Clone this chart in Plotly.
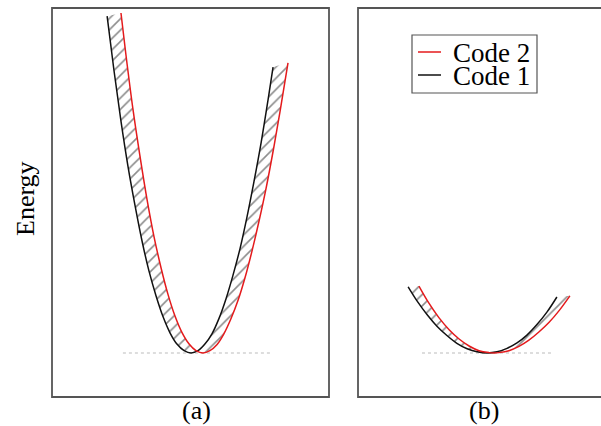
import plotly.graph_objects as go

# ---- data ----
# Panel (a)
a_code1_x = [1.99, 2.24, 2.49, 2.74, 3.00, 3.25, 3.50, 3.76, 4.01, 4.26, 4.51, 4.77, 5.02,
             5.27, 5.52, 5.78, 6.03, 6.28, 6.53, 6.79, 7.04, 7.29, 7.55, 7.80, 7.98]
a_code1_e = [8.66, 7.25, 5.96, 4.81, 3.78, 2.88, 2.11, 1.46, 0.93, 0.52, 0.23, 0.06, 0.00,
             0.06, 0.23, 0.50, 0.89, 1.39, 1.99, 2.69, 3.50, 4.40, 5.41, 6.51, 7.35]
a_code2_x = [2.49, 2.67, 2.92, 3.18, 3.43, 3.68, 3.94, 4.19, 4.44, 4.69, 4.95, 5.20, 5.45,
             5.70, 5.96, 6.21, 6.46, 6.72, 6.97, 7.22, 7.47, 7.73, 7.98, 8.23, 8.52]
a_code2_e = [8.74, 7.66, 6.28, 5.04, 3.95, 3.00, 2.18, 1.50, 0.95, 0.53, 0.23, 0.06, 0.00,
             0.06, 0.22, 0.50, 0.88, 1.36, 1.94, 2.62, 3.38, 4.24, 5.18, 6.20, 7.46]
a_ref_x = [2.56, 7.94]
a_ref_e = [0.0, 0.0]

# Panel (b)
b_code1_x = [1.81, 2.13, 2.49, 2.85, 3.21, 3.57, 3.94, 4.30, 4.66, 5.02, 5.38, 5.74, 6.10,
             6.46, 6.82, 7.18]
b_code1_e = [1.70, 1.34, 0.99, 0.69, 0.45, 0.25, 0.11, 0.03, 0.00, 0.03, 0.12, 0.26, 0.46,
             0.73, 1.05, 1.44]
b_code2_x = [2.20, 2.56, 2.92, 3.29, 3.65, 4.01, 4.37, 4.73, 4.91, 5.09, 5.45, 5.81, 6.17,
             6.53, 6.90, 7.26, 7.65]
b_code2_e = [1.72, 1.28, 0.91, 0.60, 0.36, 0.18, 0.06, 0.01, 0.00, 0.01, 0.06, 0.17, 0.33,
             0.54, 0.79, 1.09, 1.47]
b_ref_x = [2.31, 7.04]
b_ref_e = [0.0, 0.0]

series_names = ["Code 2", "Code 1"]
panel_labels = ["(a)", "(b)"]
y_title = "Energy"

# ---- styles ----
RED = "#e41a1c"
BLACK = "#111111"
FRAME = "#555555"
FONT = "Liberation Serif"

fig = go.Figure()


def add_panel(xa, ya, c1x, c1e, c2x, c2e, rx, re):
    # hatched region between the two curves
    fig.add_trace(go.Scatter(
        x=c1x + c2x[::-1], y=c1e + c2e[::-1], xaxis=xa, yaxis=ya,
        mode="lines", line=dict(width=0), fill="toself",
        fillcolor="rgba(0,0,0,0)",
        fillpattern=dict(shape="/", fgcolor="#1a1a1a", bgcolor="rgba(0,0,0,0)",
                         size=8, solidity=0.2),
        hoverinfo="skip", showlegend=False))
    # dotted reference line at minimum
    fig.add_trace(go.Scatter(x=rx, y=re, xaxis=xa, yaxis=ya, mode="lines",
                             line=dict(color="#bbbbbb", width=1, dash="dot"),
                             showlegend=False))
    fig.add_trace(go.Scatter(x=c1x, y=c1e, xaxis=xa, yaxis=ya, mode="lines",
                             line=dict(color=BLACK, width=1.5, shape="spline"),
                             name=series_names[1], showlegend=False))
    fig.add_trace(go.Scatter(x=c2x, y=c2e, xaxis=xa, yaxis=ya, mode="lines",
                             line=dict(color=RED, width=1.5, shape="spline"),
                             name=series_names[0], showlegend=False))


add_panel("x", "y", a_code1_x, a_code1_e, a_code2_x, a_code2_e, a_ref_x, a_ref_e)
add_panel("x2", "y2", b_code1_x, b_code1_e, b_code2_x, b_code2_e, b_ref_x, b_ref_e)

W, H = 601, 426
ax_a = [52 / W, 329 / W]
ax_b = [358 / W, 1.0]
ydom = [1 - 397 / H, 1 - 8 / H]
yr = [-1.131, 8.869]

hidden = dict(visible=False, showgrid=False, zeroline=False)
fig.update_layout(
    width=W, height=H, margin=dict(l=0, r=0, t=0, b=0),
    paper_bgcolor="white", plot_bgcolor="white", showlegend=False,
    xaxis=dict(domain=ax_a, range=[0, 10], **hidden),
    yaxis=dict(domain=ydom, range=yr, **hidden),
    xaxis2=dict(domain=ax_b, range=[0, 243 / 27.7], anchor="y2", **hidden),
    yaxis2=dict(domain=ydom, range=yr, anchor="x2", **hidden),
)

# frames
fig.add_shape(type="rect", xref="paper", yref="paper", x0=ax_a[0], x1=ax_a[1],
              y0=ydom[0], y1=ydom[1], line=dict(color=FRAME, width=1.8))
fig.add_shape(type="rect", xref="paper", yref="paper", x0=ax_b[0], x1=1.05,
              y0=ydom[0], y1=ydom[1], line=dict(color=FRAME, width=1.8))

# legend (manual, to match the compact layout)
fig.add_shape(type="rect", xref="paper", yref="paper", x0=412 / W, x1=537 / W,
              y0=1 - 93 / H, y1=1 - 35 / H, line=dict(color=FRAME, width=1.2),
              fillcolor="white", layer="above")
for i, (nm, col, ly) in enumerate([(series_names[0], RED, 52), (series_names[1], BLACK, 75)]):
    fig.add_shape(type="line", xref="paper", yref="paper", x0=418 / W, x1=441 / W,
                  y0=1 - ly / H, y1=1 - ly / H, line=dict(color=col, width=1.5),
                  layer="above")
    fig.add_annotation(text=nm, xref="paper", yref="paper", x=451 / W,
                       y=1 - (ly + 1.5) / H, xanchor="left", yanchor="middle",
                       showarrow=False, font=dict(family=FONT, size=27, color="black"))

# axis title and panel labels
fig.add_annotation(text=y_title, xref="paper", yref="paper", x=25 / W, y=1 - 199 / H,
                   textangle=-90, showarrow=False, xanchor="center", yanchor="middle",
                   font=dict(family=FONT, size=26, color="black"))
for lab, px in zip(panel_labels, [196, 484]):
    fig.add_annotation(text=lab, xref="paper", yref="paper", x=px / W, y=1 - 410.5 / H,
                       showarrow=False, xanchor="center", yanchor="middle",
                       font=dict(family=FONT, size=26, color="black"))

fig.write_html("out.html", config={"displayModeBar": False},
               post_script="document.body.style.margin='0';document.body.style.overflow='hidden';")
